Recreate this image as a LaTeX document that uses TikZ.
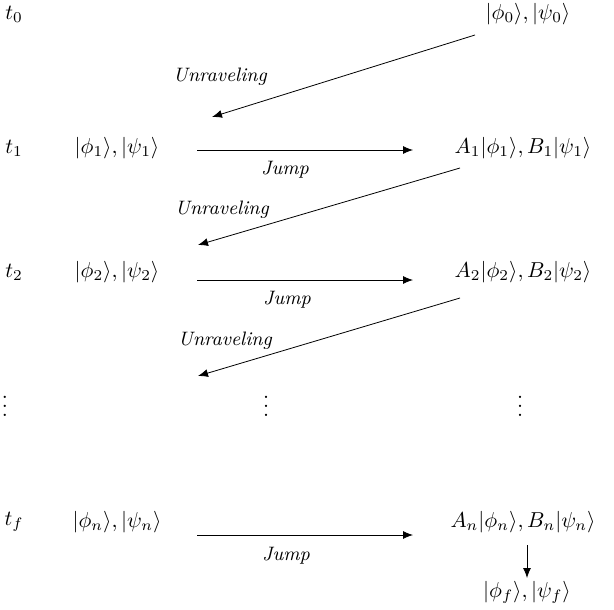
\documentclass[tikz,border=0pt]{standalone}
\usepackage{amsmath}
\usetikzlibrary{arrows.meta}
\begin{document}
\begin{tikzpicture}[x=0.5pt,y=-0.5pt,
  every node/.style={scale=1.08},
  lbl/.style={font=\small\itshape},
  arr/.style={-{Latex[length=5pt,width=4pt]}}]
\useasboundingbox (0,0) rectangle (614,609);
% times
\node (t0) at (14,14) {$t_0$};
\node (t1) at (14,148) {$t_1$};
\node (t2) at (14,272) {$t_2$};
\node (td) at (5,400) {$\vdots$};
\node (tf) at (14,522) {$t_f$};
% states
\node (r0) at (528,14) {$|\phi_0\rangle, |\psi_0\rangle$};
\node (l1) at (117,148) {$|\phi_1\rangle, |\psi_1\rangle$};
\node (r1) at (523,148) {$A_1|\phi_1\rangle, B_1|\psi_1\rangle$};
\node (l2) at (117,272) {$|\phi_2\rangle, |\psi_2\rangle$};
\node (r2) at (523,272) {$A_2|\phi_2\rangle, B_2|\psi_2\rangle$};
\node (md) at (266,400) {$\vdots$};
\node (rd) at (520,400) {$\vdots$};
\node (ln) at (117,522) {$|\phi_n\rangle, |\psi_n\rangle$};
\node (rn) at (523,522) {$A_n|\phi_n\rangle, B_n|\psi_n\rangle$};
\node (fin) at (527,592) {$|\phi_f\rangle, |\psi_f\rangle$};
% connector ends
\coordinate (a0) at (475,35);  \coordinate (b0) at (212,117);
\coordinate (a1) at (460,168); \coordinate (b1) at (198,245);
\coordinate (a2) at (460,298); \coordinate (b2) at (198,376);
\coordinate (j1s) at (197,150); \coordinate (j1e) at (413,150);
\coordinate (j2s) at (197,280); \coordinate (j2e) at (413,280);
\coordinate (jns) at (197,535); \coordinate (jne) at (413,535);
\coordinate (ds) at (527,545); \coordinate (de) at (527,578);
\draw[arr] (a0) -- (b0);
\draw[arr] (a1) -- (b1);
\draw[arr] (a2) -- (b2);
\draw[arr] (j1s) -- (j1e);
\draw[arr] (j2s) -- (j2e);
\draw[arr] (jns) -- (jne);
\draw[arr] (ds) -- (de);
% labels
\node[lbl] (u0) at (220,77) {Unraveling};
\node[lbl] (u1) at (222,210) {Unraveling};
\node[lbl] (u2) at (225,341) {Unraveling};
\node[lbl] (k1) at (285,170) {Jump};
\node[lbl] (k2) at (287,300) {Jump};
\node[lbl] (kn) at (286,556) {Jump};
\end{tikzpicture}
\end{document}
